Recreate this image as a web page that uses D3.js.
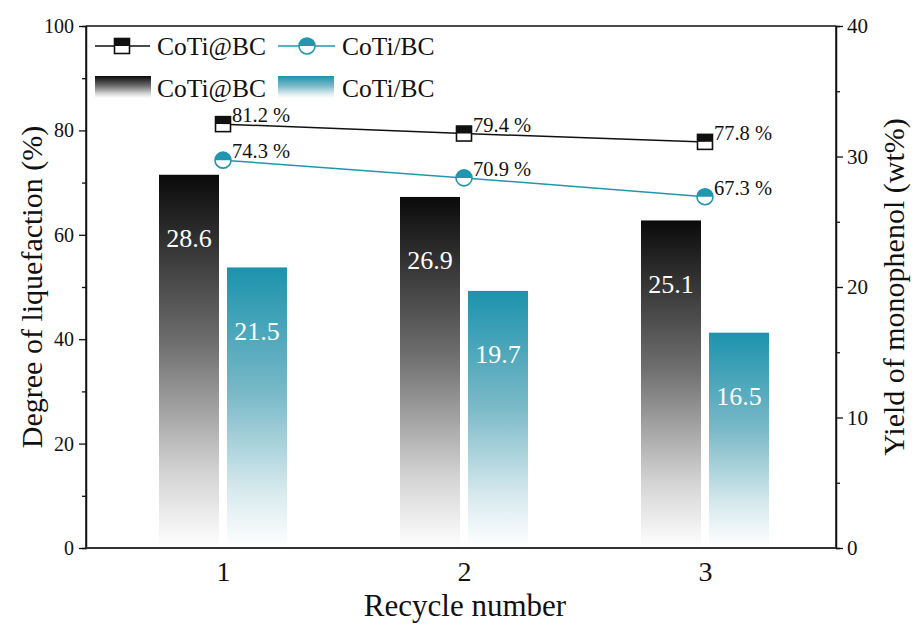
<!DOCTYPE html>
<html>
<head>
<meta charset="utf-8">
<script src="https://cdn.jsdelivr.net/npm/d3@7"></script>
<style>
  html, body { margin: 0; padding: 0; background: #fff; }
  svg text { font-family: "Liberation Serif", "DejaVu Serif", serif !important; }
</style>
</head>
<body>
<svg id="chart" width="920" height="628"></svg>
<script>
// Recycle runs
const cycles = [1, 2, 3];
// Degree of liquefaction (%) — left axis, lines
const liqCoTiAtBC = [81.2, 79.4, 77.8];
const liqCoTiBC = [74.3, 70.9, 67.3];
// Yield of monophenol (wt%) — right axis, bars
const yieldCoTiAtBC = [28.6, 26.9, 25.1];
const yieldCoTiBC = [21.5, 19.7, 16.5];
// Axis ticks
const leftTicks = [0, 20, 40, 60, 80, 100];
const leftMinor = [10, 30, 50, 70, 90];
const rightTicks = [0, 10, 20, 30, 40];
const rightMinor = [5, 15, 25, 35];
const seriesNames = ["CoTi@BC", "CoTi/BC"];

const BLACK = "#111111";
const TEAL = "#2196ae";
const SERIF = "'Liberation Serif', 'DejaVu Serif', serif";

const svg = d3.select("#chart");
const m = { left: 86, right: 836, top: 26, bottom: 548 };

const x = d3.scaleLinear().domain([0.4315, 3.5436]).range([m.left, m.right]);
const yL = d3.scaleLinear().domain([0, 100]).range([m.bottom, m.top]);
const yR = d3.scaleLinear().domain([0, 40]).range([m.bottom, m.top]);

// Gradients for the bars
const defs = svg.append("defs");
function grad(id, stops) {
  const g = defs.append("linearGradient").attr("id", id)
    .attr("x1", 0).attr("y1", 0).attr("x2", 0).attr("y2", 1);
  stops.forEach(s => g.append("stop").attr("offset", s[0]).attr("stop-color", s[1]));
}
grad("gBlack", [[0, "#0a0a0a"], [0.45, "#6e6e6e"], [0.8, "#d4d4d4"], [1, "#ffffff"]]);
grad("gTeal", [[0, "#1c93ad"], [0.45, "#7ab9c8"], [0.8, "#d8eaee"], [1, "#ffffff"]]);

// Bars (right axis)
const barW = 60, gap = 4;
const barData = [];
cycles.forEach((c, i) => {
  barData.push({ c, v: yieldCoTiAtBC[i], dx: -gap - barW, fill: "url(#gBlack)" });
  barData.push({ c, v: yieldCoTiBC[i], dx: gap, fill: "url(#gTeal)" });
});
svg.append("g").selectAll("rect").data(barData).join("rect")
  .attr("x", d => x(d.c) + d.dx)
  .attr("y", d => yR(d.v))
  .attr("width", barW)
  .attr("height", d => yR(0) - yR(d.v))
  .attr("fill", d => d.fill);

svg.append("g").selectAll("text").data(barData).join("text")
  .attr("x", d => x(d.c) + d.dx + barW / 2)
  .attr("y", d => yR(d.v) + 64)
  .attr("text-anchor", "middle")
  .attr("dominant-baseline", "central")
  .attr("fill", "#ffffff")
  .attr("font-size", 26)
  .text(d => d.v.toFixed(1));

// Axes frame
const axisColor = "#111";
svg.append("line").attr("x1", m.left).attr("x2", m.right).attr("y1", m.top).attr("y2", m.top)
  .attr("stroke", axisColor).attr("stroke-width", 1.5);

const gLeft = svg.append("g").attr("transform", `translate(${m.left},0)`)
  .call(d3.axisLeft(yL).tickValues(leftTicks).tickSize(7).tickPadding(5).tickFormat(d3.format("d")));
gLeft.append("g").call(d3.axisLeft(yL).tickValues(leftMinor).tickSize(4).tickFormat(""));

const gRight = svg.append("g").attr("transform", `translate(${m.right},0)`)
  .call(d3.axisRight(yR).tickValues(rightTicks).tickSize(7).tickPadding(4).tickFormat(d3.format("d")));
gRight.append("g").call(d3.axisRight(yR).tickValues(rightMinor).tickSize(4).tickFormat(""));

const gBottom = svg.append("g").attr("transform", `translate(0,${m.bottom})`)
  .call(d3.axisBottom(x).tickValues(cycles).tickSize(0).tickPadding(13).tickFormat(d3.format("d")));

[gLeft, gRight, gBottom].forEach(g => {
  g.attr("font-family", SERIF);
  g.selectAll("path.domain").attr("stroke", axisColor).attr("stroke-width", 1.5);
  g.selectAll(".tick line").attr("stroke", axisColor).attr("stroke-width", 1.3);
  g.selectAll("text").attr("fill", "#111");
});
gLeft.selectAll(".tick text").attr("font-size", 20);
gRight.selectAll(".tick text").attr("font-size", 21);
gBottom.selectAll(".tick text").attr("font-size", 28);
gBottom.select("path.domain").attr("stroke", "#333").attr("stroke-width", 2.2);
// plain domain lines without outer ticks
gLeft.select("path.domain").attr("d", `M0,${m.top}V${m.bottom}`);
gRight.select("path.domain").attr("d", `M0,${m.top}V${m.bottom}`);
gBottom.select("path.domain").attr("d", `M${m.left},0H${m.right}`);

// Axis titles
svg.append("text").attr("transform", `translate(31,${(m.top + m.bottom) / 2}) rotate(-90)`)
  .attr("text-anchor", "middle").attr("dominant-baseline", "central")
  .attr("font-size", 30).attr("fill", "#111").text("Degree of liquefaction (%)");
svg.append("text").attr("transform", `translate(893,${(m.top + m.bottom) / 2}) rotate(-90)`)
  .attr("text-anchor", "middle").attr("dominant-baseline", "central")
  .attr("font-size", 30).attr("fill", "#111").text("Yield of monophenol (wt%)");
svg.append("text").attr("x", 465).attr("y", 605)
  .attr("text-anchor", "middle").attr("dominant-baseline", "central")
  .attr("font-size", 31).attr("fill", "#111").text("Recycle number");

// Half-filled markers
function squareMarker(g, cx, cy, color, s) {
  const h = s / 2;
  g.append("rect").attr("x", cx - h).attr("y", cy - h).attr("width", s).attr("height", h).attr("fill", color);
  g.append("rect").attr("x", cx - h).attr("y", cy).attr("width", s).attr("height", h).attr("fill", "#fff");
  g.append("rect").attr("x", cx - h).attr("y", cy - h).attr("width", s).attr("height", s)
    .attr("fill", "none").attr("stroke", color).attr("stroke-width", 1.6);
}
function circleMarker(g, cx, cy, color, r) {
  g.append("circle").attr("cx", cx).attr("cy", cy).attr("r", r).attr("fill", "#fff");
  g.append("path").attr("d", `M${cx - r},${cy}A${r},${r} 0 0 1 ${cx + r},${cy}Z`).attr("fill", color);
  g.append("circle").attr("cx", cx).attr("cy", cy).attr("r", r)
    .attr("fill", "none").attr("stroke", color).attr("stroke-width", 1.6);
}

// Lines (left axis)
const lineGen = d3.line().x(d => x(d[0])).y(d => yL(d[1]));
const lines = [
  { vals: liqCoTiAtBC, color: BLACK, marker: "square" },
  { vals: liqCoTiBC, color: TEAL, marker: "circle" }
];
lines.forEach(L => {
  const pts = cycles.map((c, i) => [c, L.vals[i]]);
  svg.append("path").datum(pts).attr("d", lineGen)
    .attr("fill", "none").attr("stroke", L.color).attr("stroke-width", 1.5);
  const g = svg.append("g");
  pts.forEach(p => {
    if (L.marker === "square") squareMarker(g, x(p[0]), yL(p[1]), L.color, 15);
    else circleMarker(g, x(p[0]), yL(p[1]), L.color, 8);
  });
  svg.append("g").selectAll("text").data(pts).join("text")
    .attr("x", p => x(p[0]) + 9)
    .attr("y", p => yL(p[1]) - 9)
    .attr("dominant-baseline", "central")
    .attr("font-size", 20.5).attr("fill", "#111")
    .text(p => p[1].toFixed(1) + " %");
});

// Legend
const leg = svg.append("g");
const legFont = 25.5;
// row 1: line + marker
leg.append("line").attr("x1", 95).attr("x2", 150).attr("y1", 46).attr("y2", 46).attr("stroke", BLACK).attr("stroke-width", 1.5);
squareMarker(leg, 122, 46, BLACK, 15);
leg.append("text").attr("x", 157).attr("y", 46).attr("dominant-baseline", "central").attr("font-size", legFont).attr("fill", "#111").text(seriesNames[0]);
leg.append("line").attr("x1", 278).attr("x2", 335).attr("y1", 46).attr("y2", 46).attr("stroke", TEAL).attr("stroke-width", 1.5);
circleMarker(leg, 307, 46, TEAL, 8);
leg.append("text").attr("x", 342).attr("y", 46).attr("dominant-baseline", "central").attr("font-size", legFont).attr("fill", "#111").text(seriesNames[1]);
// row 2: bar swatches
leg.append("rect").attr("x", 95).attr("y", 76).attr("width", 56).attr("height", 22).attr("fill", "url(#gBlack)");
leg.append("text").attr("x", 157).attr("y", 88).attr("dominant-baseline", "central").attr("font-size", legFont).attr("fill", "#111").text(seriesNames[0]);
leg.append("rect").attr("x", 278).attr("y", 76).attr("width", 56).attr("height", 22).attr("fill", "url(#gTeal)");
leg.append("text").attr("x", 342).attr("y", 88).attr("dominant-baseline", "central").attr("font-size", legFont).attr("fill", "#111").text(seriesNames[1]);
</script>
</body>
</html>
